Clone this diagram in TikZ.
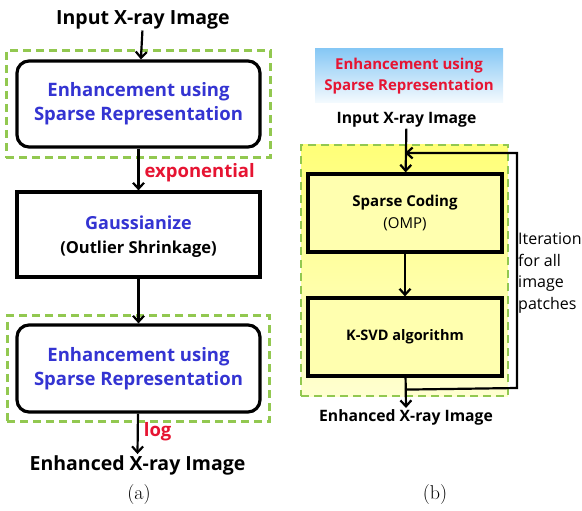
\documentclass[tikz,border=0pt]{standalone}
\usepackage{fontspec}
\newfontfamily\flowfont{Open Sans}
\usepackage{tikz}
\usetikzlibrary{arrows.meta,positioning,calc,fit}
\definecolor{blueenh}{RGB}{52, 52, 210}
\definecolor{redlbl}{RGB}{230, 20, 50}
\definecolor{greendash}{RGB}{146, 200, 80}
\definecolor{skyhdr}{RGB}{135, 200, 245}
\definecolor{yellowpanel}{RGB}{255, 255, 120}
\definecolor{yellowbox}{RGB}{255, 255, 175}

\begin{document}
\begin{tikzpicture}[
      x=1pt, y=-1pt,
      >={Straight Barb[length=6pt,width=11pt]},
      every node/.style={font=\flowfont\bfseries},
      plain text/.style={inner sep=1pt, font=\flowfont\bfseries\fontsize{19.5}{22}\selectfont},
      small text/.style={inner sep=1pt, font=\flowfont\bfseries\fontsize{15.7}{18}\selectfont},
      enh box/.style={
        draw, line width=3.2pt, rounded corners=12pt,
        fill=white, text=blueenh,
        minimum width=243pt, minimum height=86pt,
        align=center,
        font=\flowfont\bfseries\fontsize{18.5}{24}\selectfont
      },
      gauss box/.style={
        draw, line width=3.2pt, fill=white,
        minimum width=243pt, minimum height=85pt,
        align=center,
        font=\flowfont\bfseries\fontsize{18}{24}\selectfont
      },
      dash frame/.style={
        draw=greendash, line width=2.8pt, dash pattern=on 8pt off 5pt,
        inner sep=9pt
      },
      step box/.style={
        draw, line width=3.2pt, fill=yellowbox,
        minimum width=194pt, minimum height=78pt,
        align=center,
        font=\flowfont\bfseries\fontsize{15}{22}\selectfont
      },
      flow/.style={->, line width=2.2pt},
      lbl/.style={text=redlbl, inner sep=1pt, xshift=4pt,
        font=\flowfont\bfseries\fontsize{18.5}{21}\selectfont},
      caption/.style={font=\rmfamily\fontsize{20}{22}\selectfont}
  ]
  \useasboundingbox (0,0) rectangle (582,511);

  % (a) left flow
  \node[plain text] (ina) at (143,20) {Input X-ray Image};
  \node[enh box] (enha) at (138.5,104) {Enhancement using\\Sparse Representation};
  \node[dash frame, fit=(enha)] (frma) {};
  \node[gauss box] (gauss) at (138.5,234.5) {};
  \node[align=center, font=\flowfont\bfseries\fontsize{18}{24}\selectfont] (gtext) at (138.5,237)
      {\textcolor{blueenh}{Gaussianize}\\
       {\fontsize{16.5}{24}\selectfont (Outlier Shrinkage)}};
  \node[enh box, minimum height=87pt] (enhb) at (138.5,368.5) {Enhancement using\\Sparse Representation};
  \node[dash frame, inner sep=8pt, fit=(enhb)] (frmb) {};
  \node[plain text] (outa) at (137.5,465) {Enhanced X-ray Image};
  \node[caption] (capa) at (139,495) {(a)};

  \draw[flow] (ina) -- (enha);
  \draw[flow] (enha) -- (gauss) node[lbl, pos=0.58, anchor=west] {exponential};
  \draw[flow] (gauss) -- (enhb);
  \draw[flow] (enhb) -- (outa.north) node[lbl, pos=0.45, anchor=west] {log};

  % (b) right flow
  \node[draw=none, top color=skyhdr, bottom color=skyhdr!8,
        minimum width=188pt, minimum height=54pt, align=center, text=redlbl,
        font=\flowfont\bfseries\fontsize{15}{21}\selectfont] (hdr) at (409,76)
      {Enhancement using\\Sparse Representation};
  \node[small text] (inb) at (406.5,120) {Input X-ray Image};
  \node[dash frame, top color=yellowpanel, bottom color=yellowpanel!35,
        minimum width=207pt, minimum height=251pt] (panel) at (404.5,270.5) {};
  \node[step box] (sc) at (405,213)
      {Sparse Coding\\
       {\mdseries\fontsize{15}{22}\selectfont (OMP)}};
  \node[step box, font=\flowfont\bfseries\fontsize{14.5}{18}\selectfont] (ksvd) at (405,337) {K-SVD algorithm};
  \node[small text] (outb) at (406,417) {Enhanced X-ray Image};
  \node[anchor=west, align=left, inner sep=0pt,
        font=\flowfont\fontsize{16}{21.6}\selectfont] (iter) at (518,273)
      {Iteration\\for all\\image\\patches};
  \node[caption] (capb) at (435,495) {(b)};

  \coordinate (fbs) at ($(ksvd.south)+(0,12)$);
  \coordinate (fbr) at (517,388);
  \coordinate (fbt) at (517,153);
  \coordinate (fbe) at (sc.north |- fbt);

  \draw[flow] (inb) -- (sc);
  \draw[flow] (sc) -- (ksvd);
  \draw[flow] (ksvd) -- (outb.north);
  \draw[flow] (fbs) -- (fbr) -- (fbt) -- (fbe);
\end{tikzpicture}
\end{document}
